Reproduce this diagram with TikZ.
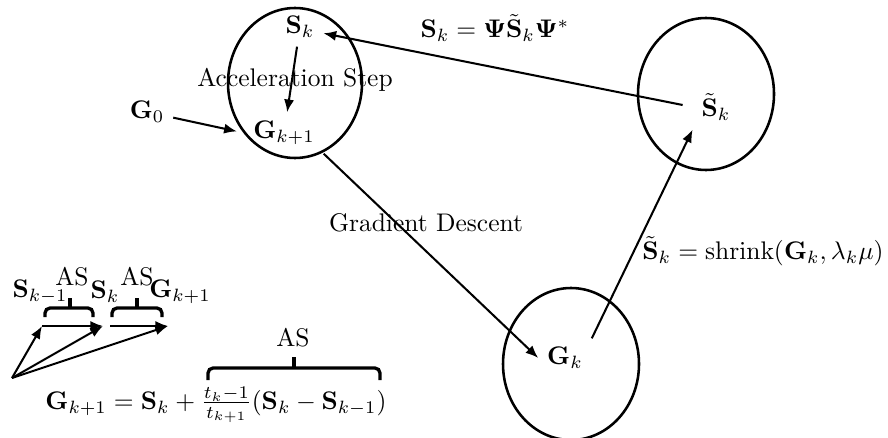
\documentclass[tikz,border=0pt]{standalone}
\usepackage{amsmath}
\usetikzlibrary{arrows.meta}
\tikzset{
  stage/.style={line width=1pt},
  flow/.style={-{Latex[length=5pt,width=4pt]},line width=0.8pt},
  asbracket/.style={line width=1.3pt,rounded corners=2pt},
}

\begin{document}
\begin{tikzpicture}[x=0.0138cm,y=0.0138cm]
    \useasboundingbox (0,0) rectangle (888,437);

    \draw[stage] (295,354) ellipse [x radius=67,y radius=75];
    \draw[stage] (706,343) ellipse [x radius=68,y radius=76];
    \draw[stage] (571,73) ellipse [x radius=68,y radius=76];

    \node (sk) at (300,410) {$\mathbf{S}_k$};
    \node (acc) at (295,357) {Acceleration Step};
    \node (gk1) at (284,304) {$\mathbf{G}_{k+1}$};
    \node (g0) at (147,325) {$\mathbf{G}_0$};
    \node (stil) at (716,330) {$\tilde{\mathbf{S}}_k$};
    \node (gk) at (565,79) {$\mathbf{G}_k$};

    \draw[flow] (sk) -- (gk1);
    \draw[flow,shorten >=3pt] (g0) -- (gk1.west);
    \draw[flow] (gk1.south east) -- (gk.west);
    \draw[flow] (gk.north east) -- (stil.south west);
    \draw[flow,shorten <=4pt] (stil.west) -- (sk.-15);

    \node (rot) at (495,409)
      {$\mathbf{S}_k = \mathbf{\Psi}\tilde{\mathbf{S}}_k\mathbf{\Psi}^*$};
    \node (gd) at (426,214) {Gradient Descent};
    \node (shr) at (763,186)
      {$\tilde{\mathbf{S}}_k = \mathrm{shrink}(\mathbf{G}_k,\lambda_k\mu)$};

    % acceleration sketch, bottom left
    \coordinate (o) at (12,59);
    \coordinate (p1) at (42,111);
    \coordinate (p2) at (103,111);
    \coordinate (q2) at (110,111);
    \coordinate (p3) at (168,111);
    \draw[flow] (o) -- (p1);
    \draw[flow] (o) -- (p2);
    \draw[flow] (o) -- (p3);
    \draw[flow] (p1) -- (p2);
    \draw[flow] (q2) -- (p3);

    \draw[asbracket] (45,120) |- (93,129) -- (93,120);
    \draw[asbracket] (70,129) -- (70,139);
    \draw[asbracket] (112,120) |- (162,129) -- (162,120);
    \draw[asbracket] (137,129) -- (137,139);
    \node (skm) at (40,145) {$\mathbf{S}_{k-1}$};
    \node (skc) at (105,145) {$\mathbf{S}_k$};
    \node (gkn) at (180,145) {$\mathbf{G}_{k+1}$};
    \node (as1) at (72,160) {AS};
    \node (as2) at (137,160) {AS};

    \draw[asbracket] (208,57) |- (380,69) -- (380,57);
    \draw[asbracket] (294,69) -- (294,80);
    \node (as3) at (293,99) {AS};
    \node (upd) at (216,32)
      {$\mathbf{G}_{k+1} = \mathbf{S}_k + \frac{t_k-1}{t_{k+1}}(\mathbf{S}_k - \mathbf{S}_{k-1})$};
\end{tikzpicture}
\end{document}
